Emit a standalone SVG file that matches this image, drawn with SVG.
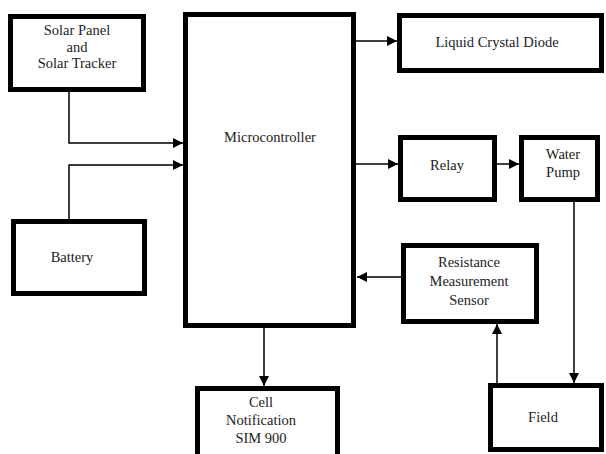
<svg xmlns="http://www.w3.org/2000/svg" width="606" height="454" viewBox="0 0 606 454">
<style>
.box{fill:#fff;stroke:#000;stroke-width:5}
.t{font-family:"Liberation Serif","Times New Roman","DejaVu Serif",serif;font-size:14.5px;fill:#222;text-anchor:middle}
.c{fill:none;stroke:#000;stroke-width:1.5}
</style>
<defs>
<marker id="ah" viewBox="0 0 10 10" refX="10" refY="5" markerWidth="10" markerHeight="10" markerUnits="userSpaceOnUse" orient="auto">
<path d="M0,0 L10,5 L0,10 Z" fill="#000"/>
</marker>
</defs>
<rect width="606" height="454" fill="#fff"/>
<g id="connectors">
<path class="c" d="M69,92 V143 H183" marker-end="url(#ah)"/>
<path class="c" d="M69,219 V165 H183" marker-end="url(#ah)"/>
<path class="c" d="M356,41 H397" marker-end="url(#ah)"/>
<path class="c" d="M356,164 H398" marker-end="url(#ah)"/>
<path class="c" d="M497,164 H519" marker-end="url(#ah)"/>
<path class="c" d="M574,202 V383" marker-end="url(#ah)"/>
<path class="c" d="M497,383 V324" marker-end="url(#ah)"/>
<path class="c" d="M401,277 H357" marker-end="url(#ah)"/>
<path class="c" d="M264,328 V386" marker-end="url(#ah)"/>
</g>
<g id="solar">
<rect class="box" x="10.5" y="16.5" width="133" height="73"/>
<text class="t" x="77" y="35">Solar Panel</text>
<text class="t" x="77" y="51.5">and</text>
<text class="t" x="77" y="68">Solar Tracker</text>
</g>
<g id="battery">
<rect class="box" x="13.5" y="221.5" width="131" height="72"/>
<text class="t" x="72" y="262">Battery</text>
</g>
<g id="micro">
<rect class="box" x="185.5" y="14.5" width="168" height="311"/>
<text class="t" x="270" y="142">Microcontroller</text>
</g>
<g id="lcd">
<rect class="box" x="399.5" y="15.5" width="202" height="55"/>
<text class="t" x="497" y="47">Liquid Crystal Diode</text>
</g>
<g id="relay">
<rect class="box" x="400.5" y="137.5" width="94" height="62"/>
<text class="t" x="447" y="170">Relay</text>
</g>
<g id="pump">
<rect class="box" x="521.5" y="137.5" width="76" height="62"/>
<text class="t" x="563" y="159">Water</text>
<text class="t" x="563" y="177">Pump</text>
</g>
<g id="sensor">
<rect class="box" x="403.5" y="245.5" width="133" height="76"/>
<text class="t" x="469" y="267">Resistance</text>
<text class="t" x="469" y="286">Measurement</text>
<text class="t" x="469" y="305">Sensor</text>
</g>
<g id="field">
<rect class="box" x="490.5" y="385.5" width="111" height="64"/>
<text class="t" x="543" y="422">Field</text>
</g>
<g id="cell">
<rect class="box" x="197.5" y="388.5" width="140" height="80"/>
<text class="t" x="261" y="407">Cell</text>
<text class="t" x="261" y="425">Notification</text>
<text class="t" x="261" y="443">SIM 900</text>
</g>
</svg>
